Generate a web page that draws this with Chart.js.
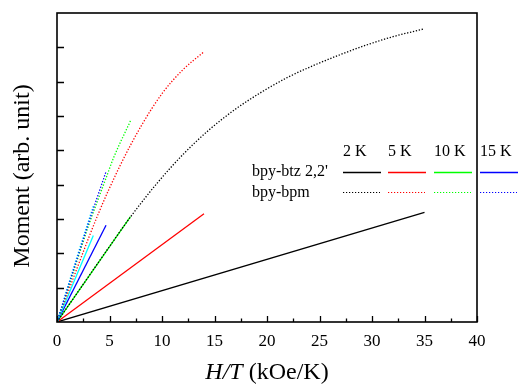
<!DOCTYPE html>
<html><head><meta charset="utf-8">
<script src="https://cdn.jsdelivr.net/npm/chart.js@4/dist/chart.umd.min.js"></script>
<style>html,body{margin:0;padding:0;background:#fff}</style>
</head><body>
<canvas id="c" width="518" height="385"></canvas>
<script>
// ---- data (H/T in kOe/K, moment in arb. units) ----
const xTickValues = [0, 5, 10, 15, 20, 25, 30, 35, 40];
const xMinorTicks = [2.5, 7.5, 12.5, 17.5, 22.5, 27.5, 32.5, 37.5];
const yTickValues = [1, 2, 3, 4, 5, 6, 7, 8];
const tempLabels = ["2 K", "5 K", "10 K", "15 K"];
const seriesLabels = ["bpy-btz 2,2'", "bpy-bpm"];

// bpy-btz 2,2' (solid)
const btz2K  = [[0, 0], [35, 3.19]];
const btz5K  = [[0, 0], [14, 3.15]];
const btz10K = [[0, 0], [7, 3.07]];
const btz15K = [[0, 0], [4.67, 2.82]];
const btz20K = [[0, 0], [3.46, 2.52]];
// bpy-bpm (dotted)
const bpm2K  = [[0, 0], [2.5, 1.1], [5, 2.2], [7, 3.06], [9.5, 4.03], [12, 4.88], [14.5, 5.6], [17, 6.2], [19.5, 6.7], [22, 7.13], [24.5, 7.48], [27, 7.79], [29.5, 8.07], [32, 8.31], [35, 8.54]];
const bpm5K  = [[0, 0], [2, 1.64], [4, 3.2], [6, 4.55], [8, 5.7], [10, 6.65], [12, 7.35], [14, 7.87]];
const bpm10K = [[0, 0], [1.5, 1.4], [3, 2.8], [4.73, 4.24], [5.37, 4.77], [7, 5.86]];
const bpm15K = [[0, 0], [1.5, 1.45], [3, 2.88], [4.67, 4.38]];
const bpm20K = [[0, 0], [1.75, 1.75], [3.5, 3.42]];

const colors = ["#000000", "#ff0000", "#00ff00", "#0000ff", "#00ffff"];
const pts = a => a.map(p => ({x: p[0], y: p[1]}));

function solid(d, c, o) {
  return {data: pts(d), borderColor: c, borderWidth: 1.3, pointRadius: 0, fill: false, tension: 0, order: o};
}
function dotted(d, c, o) {
  return {data: pts(d), borderColor: c, borderWidth: 1.3, borderDash: [1.3, 1.7], pointRadius: 0, fill: false,
          cubicInterpolationMode: 'monotone', order: o};
}

const datasets = [
  solid(btz2K, colors[0], 20), solid(btz5K, colors[1], 19), solid(btz10K, colors[2], 18),
  solid(btz15K, colors[3], 17), solid(btz20K, colors[4], 16),
  dotted(bpm5K, colors[1], 15), dotted(bpm10K, colors[2], 14), dotted(bpm2K, colors[0], 13),
  dotted(bpm20K, colors[4], 12), dotted(bpm15K, colors[3], 11)
];

const SERIF = "'Liberation Serif', 'DejaVu Serif', serif";

const decor = {
  id: 'decor',
  afterDraw(chart) {
    const ctx = chart.ctx, a = chart.chartArea, xs = chart.scales.x, ys = chart.scales.y;
    ctx.save();
    ctx.strokeStyle = '#000';
    ctx.lineWidth = 1.6;
    ctx.strokeRect(a.left, a.top, a.right - a.left, a.bottom - a.top);
    ctx.lineWidth = 1.3;
    ctx.beginPath();
    xTickValues.forEach(v => { const px = Math.round(xs.getPixelForValue(v)) + 0.5; ctx.moveTo(px, a.bottom); ctx.lineTo(px, a.bottom - 6); });
    xMinorTicks.forEach(v => { const px = Math.round(xs.getPixelForValue(v)) + 0.5; ctx.moveTo(px, a.bottom); ctx.lineTo(px, a.bottom - 3.5); });
    yTickValues.forEach(v => { const py = Math.round(ys.getPixelForValue(v)) + 0.5; ctx.moveTo(a.left, py); ctx.lineTo(a.left + 7, py); });
    ctx.stroke();

    // x axis title with italic H/T
    ctx.fillStyle = '#000';
    ctx.textBaseline = 'alphabetic';
    const f1 = "italic 24px " + SERIF, f2 = "24px " + SERIF;
    ctx.font = f1; const w1 = ctx.measureText('H/T').width;
    ctx.font = f2; const w2 = ctx.measureText(' (kOe/K)').width;
    const cx = (a.left + a.right) / 2;
    let x0 = cx - (w1 + w2) / 2;
    ctx.font = f1; ctx.fillText('H/T', x0, 379);
    ctx.font = f2; ctx.fillText(' (kOe/K)', x0 + w1, 379);

    // y axis title
    ctx.save();
    ctx.translate(23, 176);
    ctx.rotate(-Math.PI / 2);
    ctx.font = "24px " + SERIF;
    ctx.textAlign = 'center';
    ctx.textBaseline = 'middle';
    ctx.fillText('Moment (arb. unit)', 0, 0);
    ctx.restore();

    // legend
    ctx.font = "16px " + SERIF;
    ctx.textBaseline = 'middle';
    ctx.textAlign = 'left';
    const colX = [343, 388, 434, 480];
    tempLabels.forEach((t, i) => ctx.fillText(t, colX[i], 152));
    ctx.fillText(seriesLabels[0], 252, 172);
    ctx.fillText(seriesLabels[1], 252, 193);
    colX.forEach((x, i) => {
      ctx.strokeStyle = colors[i];
      ctx.lineWidth = 1.4;
      ctx.setLineDash([]);
      ctx.beginPath(); ctx.moveTo(x, 172.5); ctx.lineTo(x + 38, 172.5); ctx.stroke();
      ctx.lineWidth = 1.2;
      ctx.setLineDash([1.2, 1.8]);
      ctx.beginPath(); ctx.moveTo(x, 192.5); ctx.lineTo(x + 37, 192.5); ctx.stroke();
    });
    ctx.restore();
  }
};

new Chart(document.getElementById('c'), {
  type: 'line',
  data: {datasets},
  options: {
    responsive: false,
    animation: false,
    events: [],
    layout: {padding: {top: 13, right: 41, left: 0, bottom: 0}},
    plugins: {legend: {display: false}, tooltip: {enabled: false}},
    scales: {
      x: {
        type: 'linear', min: 0, max: 40,
        afterFit: s => { s.height = 63; },
        afterBuildTicks: s => { s.ticks = xTickValues.map(v => ({value: v})); },
        grid: {display: false, drawTicks: false},
        border: {display: false},
        ticks: {color: '#000', padding: 9, maxRotation: 0, font: {family: SERIF, size: 17}}
      },
      y: {
        type: 'linear', min: 0, max: 9,
        afterFit: s => { s.width = 57; },
        grid: {display: false, drawTicks: false},
        border: {display: false},
        ticks: {display: false}
      }
    }
  },
  plugins: [decor]
});
</script>
</body></html>
